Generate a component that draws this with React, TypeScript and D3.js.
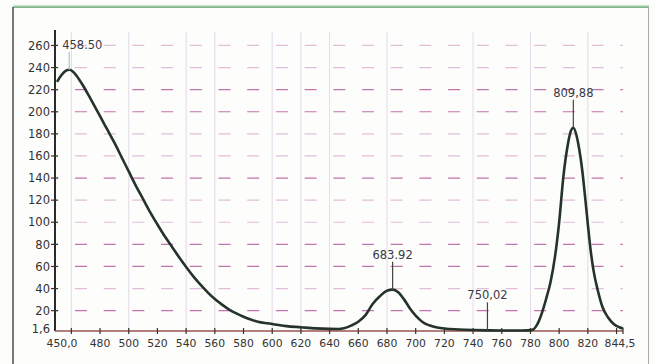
import React from "react";
import * as d3 from "d3";

const wavelengths = [
  450, 453, 456, 458.5, 461, 464, 468, 472, 476, 480, 485, 490, 495, 500, 505, 510, 515, 520, 525, 530,
  535, 540, 545, 550, 555, 560, 565, 570, 575, 580, 585, 590, 595, 600, 610, 620, 630, 640, 646, 650,
  655, 660, 665, 670, 675, 680, 683.92, 688, 692, 696, 700, 705, 710, 715, 720, 730, 740, 750.02, 760, 770,
  778, 782, 784, 786, 788, 791, 794, 797, 800, 803, 806, 808, 809.88, 812, 814, 816, 818, 820, 822, 824,
  827, 830, 834, 838, 842, 844.5,
];
const absorbance = [
  227, 233, 237, 238, 236.5, 232, 224, 215, 205.5, 196, 184, 172, 159, 146, 133, 121, 109, 98, 87.5, 78,
  68.5, 59.5, 51, 43.5, 36.5, 30.5, 25.5, 21, 17.5, 14.5, 12, 10, 8.8, 8, 6, 5, 4, 3.5, 3.4, 4,
  6.5, 10, 16, 26, 33, 38, 39, 36.5, 30, 22, 15.5, 9.5, 6.5, 4.8, 3.8, 3, 2.5, 2.2, 2, 2,
  2.2, 3, 6, 11, 18, 31, 46, 68, 100, 142, 170, 182, 185.5, 179, 166, 148, 124, 98, 74, 56,
  38, 24, 14, 8, 5, 3.8,
];

const yMin = 1.6;
const yMax = 274;
const yTicks = [20, 40, 60, 80, 100, 120, 140, 160, 180, 200, 220, 240, 260];
const xMin = 450;
const xMax = 844.5;
const xTicks = [460, 480, 500, 520, 540, 560, 580, 600, 620, 640, 660, 680, 700, 720, 740, 760, 780, 800, 820, 840];
const xLabelValues = [450, 480, 500, 520, 540, 560, 580, 600, 620, 640, 660, 680, 700, 720, 740, 760, 780, 800, 820, 844.5];
const xLabelTexts = ["450,0", "480", "500", "520", "540", "560", "580", "600", "620", "640", "660", "680", "700", "720", "740", "760", "780", "800", "820", "844,5"];
const vGrid = [460, 500, 540, 560, 600, 620, 640, 680, 740, 780, 820];
const darkRows = [20, 60, 80, 140, 200, 220];
const peakX = [458.5, 683.92, 750.02, 809.88];
const peakLabels = ["458.50", "683.92", "750,02", "809,88"];

const W = 655;
const H = 364;
const left = 55;
const plotLeft = 57;
const plotRight = 623;
const bottom = 331;
const top = 30;

export default function App() {
  const x = d3.scaleLinear().domain([xMin, xMax]).range([plotLeft, plotRight]);
  const y = d3.scaleLinear().domain([yMin, yMax]).range([bottom, top]);
  const pts: [number, number][] = wavelengths.map((w, i) => [w, absorbance[i]]);
  const line = d3
    .line<[number, number]>()
    .x((d) => x(d[0]))
    .y((d) => y(d[1]))
    .curve(d3.curveMonotoneX);
  const interp = (w: number) => {
    const i = d3.bisector((d: [number, number]) => d[0]).left(pts, w);
    if (i <= 0) return pts[0][1];
    if (i >= pts.length) return pts[pts.length - 1][1];
    const a = pts[i - 1], b = pts[i];
    const t = (w - a[0]) / (b[0] - a[0] || 1);
    return a[1] + t * (b[1] - a[1]);
  };
  const font = "'DejaVu Sans', Arial, sans-serif";
  return (
    <svg width={W} height={H} style={{ position: "absolute", left: 0, top: 0, background: "#fdfdfb" }}>
      <rect x={0} y={0} width={W} height={H} fill="#fdfdfb" />
      {/* frame */}
      <line x1={13} x2={649} y1={7} y2={7} stroke="#5f9c68" strokeWidth={1.6} />
      <line x1={13} x2={649} y1={5.5} y2={5.5} stroke="#cfeccf" strokeWidth={1.4} />
      <line x1={13} x2={13} y1={7} y2={H} stroke="#555" strokeWidth={1.6} />
      <line x1={648.5} x2={648.5} y1={7} y2={H} stroke="#aaa" strokeWidth={1} />
      {/* vertical grid */}
      {vGrid.map((g) => (
        <line key={"v" + g} x1={x(g)} x2={x(g)} y1={top + 2} y2={bottom} stroke="#c6b6d6" strokeWidth={0.8} opacity={0.6} />
      ))}
      {/* horizontal dashed grid */}
      {yTicks.map((t) => (
        <line
          key={"h" + t}
          x1={plotLeft}
          x2={plotRight}
          y1={y(t)}
          y2={y(t)}
          stroke={darkRows.includes(t) ? "#c274ad" : "#e2bdd9"}
          strokeWidth={1.2}
          strokeDasharray="12 16.7"
          strokeDashoffset={-18}
        />
      ))}
      {/* y axis */}
      <line x1={left} x2={left} y1={top} y2={bottom} stroke="#2a2a2a" strokeWidth={2} />
      {yTicks.map((t) => (
        <g key={"yt" + t}>
          <line x1={left - 4} x2={left + 3} y1={y(t)} y2={y(t)} stroke="#333" strokeWidth={1.2} />
          <text x={left - 5} y={y(t)} dy="0.36em" textAnchor="end" fontSize={11.5} fontFamily={font} fill="#333">
            {t}
          </text>
        </g>
      ))}
      <text x={left - 5} y={y(yMin)} dy="0.2em" textAnchor="end" fontSize={11.5} fontFamily={font} fill="#333">
        1,6
      </text>
      {/* x axis */}
      <line x1={left} x2={plotRight} y1={bottom} y2={bottom} stroke="#9a5555" strokeWidth={1.6} />
      {xTicks.map((t) => (
        <line key={"xt" + t} x1={x(t)} x2={x(t)} y1={bottom - 3} y2={bottom + 3} stroke="#333" strokeWidth={1.2} />
      ))}
      <line x1={plotRight} x2={plotRight} y1={bottom - 3} y2={bottom + 3} stroke="#333" strokeWidth={1.2} />
      {xLabelValues.map((v, i) => (
        <text
          key={"xl" + i}
          x={x(v) + (i === 0 ? 5 : i === xLabelValues.length - 1 ? -3 : 0)}
          y={bottom + 16}
          textAnchor="middle"
          fontSize={10.8}
          fontFamily={font}
          fill="#333"
        >
          {xLabelTexts[i]}
        </text>
      ))}
      {/* curve */}
      <path d={line(pts) || ""} fill="none" stroke="#25332b" strokeWidth={2.6} strokeLinejoin="round" />
      {/* peak annotations */}
      {peakX.map((p, i) => {
        const py = y(interp(p));
        const lineTop = Math.max(py - 28, 52);
        const first = i === 0;
        return (
          <g key={"pk" + i}>
            <line x1={x(p)} x2={x(p)} y1={lineTop} y2={py} stroke={first ? "#a9c4d8" : "#444"} strokeWidth={1.2} />
            <text
              x={first ? x(p) - 7 : x(p)}
              y={lineTop - 3}
              textAnchor={first ? "start" : "middle"}
              fontSize={11.5}
              fontFamily={font}
              fill="#3a3a44"
            >
              {peakLabels[i]}
            </text>
          </g>
        );
      })}
    </svg>
  );
}
